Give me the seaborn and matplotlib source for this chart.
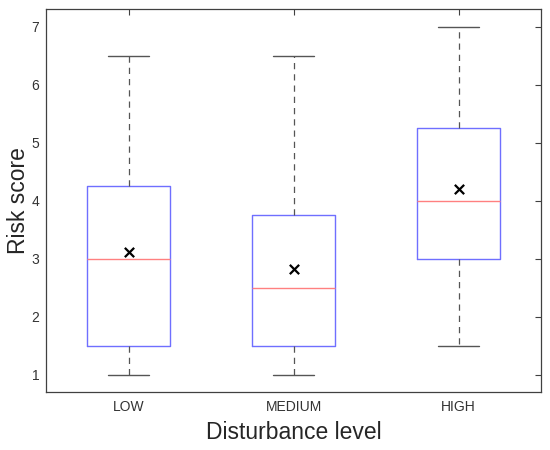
import matplotlib
matplotlib.use("Agg")
import matplotlib.pyplot as plt
import seaborn as sns
import pandas as pd

# Resumen de cada caja
levels = ["LOW", "MEDIUM", "HIGH"]
whisker_low = [1.0, 1.0, 1.5]
q1 = [1.5, 1.5, 3.0]
medians = [3.0, 2.5, 4.0]
q3 = [4.25, 3.75, 5.25]
whisker_high = [6.5, 6.5, 7.0]
means = [3.12, 2.83, 4.2]

sns.set_style("white")
plt.rcParams["font.family"] = ["Liberation Sans", "DejaVu Sans"]

fig, ax = plt.subplots(figsize=(5.5, 4.5), dpi=100)

stats = []
for i, lab in enumerate(levels):
    stats.append({
        "label": lab,
        "whislo": whisker_low[i],
        "q1": q1[i],
        "med": medians[i],
        "q3": q3[i],
        "whishi": whisker_high[i],
        "fliers": [],
    })

ax.bxp(stats, positions=[1, 2, 3], widths=0.5, showfliers=False,
       boxprops=dict(color="#6f6fff", linewidth=1.0),
       medianprops=dict(color="#ff8080", linewidth=1.0),
       whiskerprops=dict(color="#555555", linewidth=0.9, linestyle=(0, (5, 4))),
       capprops=dict(color="#555555", linewidth=1.0),
       capwidths=0.25)

df_means = pd.DataFrame({"pos": [1, 2, 3], "mean": means})
sns.scatterplot(data=df_means, x="pos", y="mean", marker="x", color="black",
                s=45, linewidth=1.6, ax=ax, zorder=5)

ax.set_xlim(0.5, 3.5)
ax.set_ylim(0.7, 7.3)
ax.set_xticks([1, 2, 3])
ax.set_xticklabels(levels)
ax.set_yticks(range(1, 8))
ax.set_xlabel("Disturbance level", fontsize=16.5, color="#262626", labelpad=5)
ax.set_ylabel("Risk score", fontsize=16.5, color="#262626", labelpad=1)
ax.tick_params(direction="in", length=4, width=0.8, colors="#404040",
               labelsize=10, top=True, right=True, labelcolor="#333333")
ax.tick_params(axis="x", pad=6)
ax.tick_params(axis="y", pad=5)
for sp in ax.spines.values():
    sp.set_color("#404040")
    sp.set_linewidth(0.9)

fig.subplots_adjust(left=0.084, right=0.984, top=0.979, bottom=0.129)
fig.savefig("out.png", dpi=100)
